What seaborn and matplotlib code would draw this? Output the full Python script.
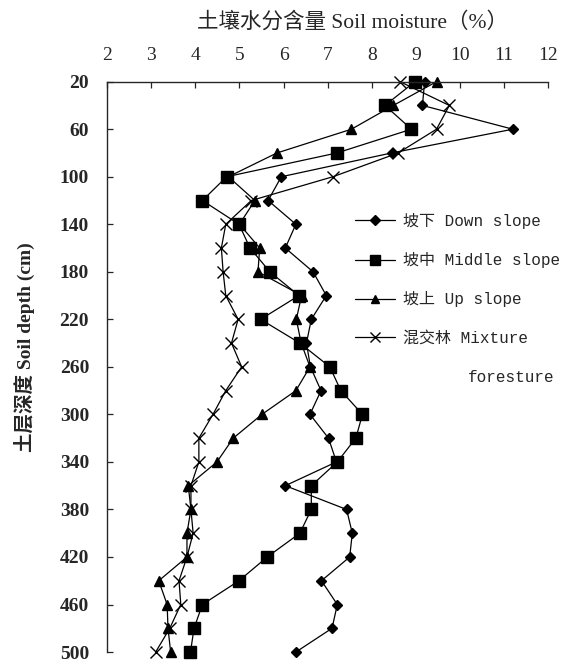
import pandas as pd
import seaborn as sns
import matplotlib.pyplot as plt

sns.set_style("ticks")
plt.rcParams['font.family'] = ['Liberation Serif', 'Noto Sans CJK SC']

# soil depth (cm), every 20 cm
depth = list(range(20, 501, 20))

# soil moisture (%)
down_slope = [9.2, 9.15, 11.2, 8.45, 5.95, 5.65, 6.28, 6.04, 6.67, 6.97, 6.63, 6.52, 6.61,
              6.85, 6.6, 7.02, 7.2, 6.04, 7.43, 7.56, 7.5, 6.86, 7.22, 7.1, 6.28]
middle_slope = [8.98, 8.3, 8.9, 7.21, 4.71, 4.16, 4.99, 5.24, 5.69, 6.35, 5.48, 6.37, 7.05,
                7.3, 7.79, 7.64, 7.22, 6.63, 6.63, 6.37, 5.63, 4.99, 4.16, 3.97, 3.89]
up_slope = [9.47, 8.49, 7.54, 5.85, 4.75, 5.35, 5.0, 5.46, 5.42, 6.41, 6.29, 6.4, 6.6,
            6.28, 5.51, 4.86, 4.49, 3.84, 3.9, 3.81, 3.81, 3.17, 3.36, 3.38, 3.44]
mixture = [8.64, 9.76, 9.47, 8.6, 7.12, 5.27, 4.69, 4.59, 4.63, 4.69, 4.97, 4.82, 5.05,
           4.69, 4.4, 4.08, 4.08, 3.9, 3.9, 3.95, 3.81, 3.63, 3.67, 3.42, 3.1]

labels = ['坡下 Down slope', '坡中 Middle slope', '坡上 Up slope', '混交林 Mixture']
series = [down_slope, middle_slope, up_slope, mixture]
markers = ['D', 's', '^', 'x']
msizes = [5.5, 8, 6.5, 8]

rows = []
for lab, vals in zip(labels, series):
    for d, v in zip(depth, vals):
        rows.append({'series': lab, 'depth': d, 'moisture': v})
df = pd.DataFrame(rows)

fig = plt.figure(figsize=(5.61, 6.64), dpi=100)
ax = fig.add_axes([0.191, 0.018, 0.786, 0.859])

for lab, mk, ms in zip(labels, markers, msizes):
    sub = df[df['series'] == lab]
    sns.lineplot(data=sub, x='moisture', y='depth', ax=ax, color='black',
                 marker=mk, markersize=ms, markeredgecolor='black',
                 markeredgewidth=1.0, linewidth=0.9, sort=False,
                 estimator=None, label=lab, clip_on=False)

ax.set_xlim(2, 12)
ax.set_ylim(500, 20)
ax.set_xticks(range(2, 13))
ax.set_yticks(range(20, 501, 40))
ax.xaxis.tick_top()
ax.xaxis.set_label_position('top')
ax.tick_params(axis='both', direction='in', length=4, width=0.9, labelsize=14)
ax.tick_params(axis='x', pad=13)
ax.tick_params(axis='y', pad=13)
for t in ax.get_yticklabels():
    t.set_fontweight('bold')

for s in ['right', 'bottom']:
    ax.spines[s].set_visible(False)
for s in ['top', 'left']:
    ax.spines[s].set_linewidth(1.0)

ax.set_xlabel('土壤水分含量 Soil moisture（%）', fontsize=15.5)
ax.xaxis.set_label_coords(0.557, 1.095)
ax.set_ylabel('土层深度 Soil depth (cm)', fontsize=14, fontweight='bold')
ax.yaxis.set_label_coords(-0.163, 0.534)

leg_font = {'family': ['Liberation Mono', 'Noto Sans CJK SC'], 'size': 11.5}
leg = ax.legend(loc='upper left', bbox_to_anchor=(0.53, 0.795), frameon=False,
                prop=leg_font, handlelength=2.5, labelspacing=1.45, handletextpad=0.5,
                markerscale=0.85)
# second line of the last legend label
fig.text(0.834, 0.431, 'foresture', va='center', ha='left', fontdict=leg_font)

fig.savefig('out.png', dpi=100)
